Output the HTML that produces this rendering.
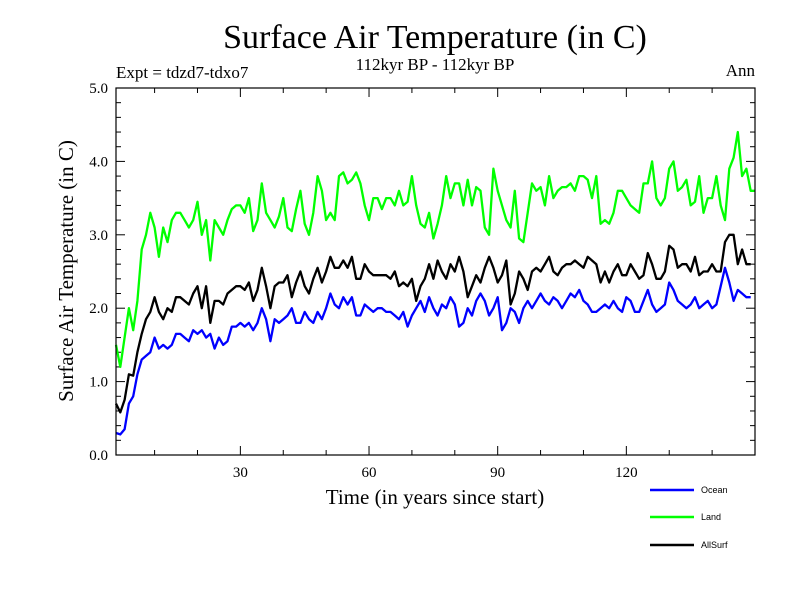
<!DOCTYPE html>
<html><head><meta charset="utf-8"><style>
body{margin:0;background:#fff;}
svg{display:block;font-family:"Liberation Serif",serif;}
</style></head><body>
<svg id="chart" width="800" height="600">
<rect width="800" height="600" fill="#fff"/>
<text x="435" y="48" font-size="34" text-anchor="middle">Surface Air Temperature (in C)</text>
<text x="435" y="70" font-size="17" text-anchor="middle">112kyr BP - 112kyr BP</text>
<text x="116" y="78" font-size="17">Expt = tdzd7-tdxo7</text>
<text x="755" y="76" font-size="17" text-anchor="end">Ann</text>
<text transform="translate(73,271) rotate(-90)" font-size="21" text-anchor="middle">Surface Air Temperature (in C)</text>
<text x="435" y="504" font-size="21" text-anchor="middle">Time (in years since start)</text>
<g id="ticks"></g>
<g id="series"></g>
<rect x="116" y="88" width="639" height="367" fill="none" stroke="#000" stroke-width="1.2"/>
<g font-family="Liberation Sans, sans-serif" font-size="9">
<line x1="650" y1="490" x2="694" y2="490" stroke="#0000ff" stroke-width="2.5"/>
<text x="701" y="493">Ocean</text>
<line x1="650" y1="517" x2="694" y2="517" stroke="#00ff00" stroke-width="2.5"/>
<text x="701" y="520">Land</text>
<line x1="650" y1="545" x2="694" y2="545" stroke="#000" stroke-width="2.5"/>
<text x="701" y="548">AllSurf</text>
</g>
</svg>
<script>
const xTicks=[30,60,90,120];
const yTicks=[0,1,2,3,4,5];
const ocean=[0.3,0.28,0.35,0.7,0.8,1.1,1.3,1.35,1.4,1.6,1.45,1.5,1.45,1.5,1.65,1.65,1.6,1.55,1.7,1.65,1.7,1.6,1.65,1.45,1.6,1.5,1.55,1.75,1.75,1.8,1.75,1.8,1.7,1.8,2.0,1.85,1.55,1.85,1.8,1.85,1.9,2.0,1.8,1.8,1.95,1.85,1.8,1.95,1.85,2.0,2.2,2.05,2.0,2.15,2.05,2.15,1.9,1.9,2.05,2.0,1.95,2.0,2.0,1.95,1.95,1.9,1.85,1.95,1.75,1.9,2.0,2.1,1.95,2.15,2.0,1.9,2.05,2.0,2.15,2.05,1.75,1.8,2.0,1.9,2.1,2.2,2.1,1.9,2.0,2.15,1.7,1.8,2.0,1.95,1.8,2.0,2.1,2.0,2.1,2.2,2.1,2.05,2.15,2.1,2.0,2.1,2.2,2.15,2.25,2.1,2.05,1.95,1.95,2.0,2.05,2.0,2.1,2.0,1.95,2.15,2.1,1.95,1.95,2.1,2.25,2.05,1.95,2.0,2.05,2.35,2.25,2.1,2.05,2.0,2.05,2.15,2.0,2.05,2.1,2.0,2.05,2.3,2.55,2.35,2.1,2.25,2.2,2.15,2.15];
const land=[1.5,1.2,1.6,2.0,1.7,2.1,2.8,3.0,3.3,3.1,2.7,3.1,2.9,3.2,3.3,3.3,3.2,3.1,3.2,3.45,3.0,3.2,2.65,3.2,3.1,3.0,3.2,3.35,3.4,3.4,3.3,3.5,3.05,3.2,3.7,3.3,3.2,3.1,3.25,3.5,3.1,3.05,3.35,3.6,3.15,3.0,3.3,3.8,3.6,3.2,3.3,3.2,3.8,3.85,3.7,3.75,3.85,3.7,3.4,3.2,3.5,3.5,3.35,3.5,3.5,3.4,3.6,3.4,3.45,3.8,3.4,3.15,3.1,3.3,2.95,3.15,3.4,3.8,3.5,3.7,3.7,3.4,3.75,3.4,3.65,3.6,3.1,3.0,3.9,3.6,3.4,3.2,3.1,3.6,2.95,2.9,3.3,3.7,3.6,3.65,3.4,3.8,3.5,3.6,3.65,3.65,3.7,3.6,3.8,3.8,3.75,3.5,3.8,3.15,3.2,3.15,3.3,3.6,3.6,3.5,3.4,3.35,3.3,3.7,3.7,4.0,3.5,3.4,3.5,3.9,4.0,3.6,3.65,3.75,3.4,3.45,3.8,3.3,3.5,3.5,3.8,3.4,3.2,3.9,4.05,4.4,3.8,3.9,3.6,3.6];
const allsurf=[0.7,0.58,0.75,1.1,1.08,1.4,1.65,1.85,1.95,2.15,1.95,1.85,2.0,1.95,2.15,2.15,2.1,2.05,2.2,2.3,2.0,2.3,1.8,2.1,2.1,2.05,2.2,2.25,2.3,2.3,2.25,2.35,2.1,2.25,2.55,2.3,2.0,2.3,2.35,2.35,2.45,2.15,2.35,2.5,2.3,2.2,2.4,2.55,2.35,2.5,2.7,2.55,2.55,2.65,2.55,2.7,2.4,2.4,2.6,2.5,2.45,2.45,2.45,2.45,2.4,2.5,2.3,2.35,2.3,2.4,2.1,2.3,2.4,2.6,2.4,2.65,2.5,2.4,2.6,2.5,2.7,2.5,2.15,2.3,2.45,2.35,2.55,2.7,2.55,2.35,2.45,2.65,2.05,2.2,2.5,2.4,2.25,2.5,2.55,2.5,2.6,2.7,2.5,2.45,2.55,2.6,2.6,2.65,2.6,2.55,2.7,2.65,2.6,2.35,2.5,2.35,2.5,2.6,2.45,2.45,2.6,2.5,2.4,2.45,2.75,2.6,2.4,2.4,2.5,2.85,2.8,2.55,2.6,2.6,2.5,2.7,2.45,2.5,2.5,2.6,2.5,2.5,2.9,3.0,3.0,2.6,2.8,2.6,2.6];

const NS="http://www.w3.org/2000/svg";
const X0=116,X1=755,Y0=455,Y1=88;
const xMin=1,xMax=150,yMin=0,yMax=5;
function xs(v){return X0+(v-xMin)/(xMax-xMin)*(X1-X0);}
function ys(v){return Y0-(v-yMin)/(yMax-yMin)*(Y0-Y1);}
function mk(tag,attrs,parent){const e=document.createElementNS(NS,tag);for(const k in attrs)e.setAttribute(k,attrs[k]);parent.appendChild(e);return e;}
const tg=document.getElementById('ticks');
for(let v=0;v<=5.0001;v+=0.2){
  const y=ys(v);const major=Math.abs(v-Math.round(v))<1e-6;const L=major?9:5;
  const t1=mk('line',{x1:X0,x2:X0+L,y1:y,y2:y,stroke:'#000'},tg);
  
  
  const t2=mk('line',{x1:X1,x2:X1-L,y1:y,y2:y,stroke:'#000'},tg);
  
  
}
yTicks.forEach(v=>{
  const t=mk('text',{x:X0-8,y:ys(v)+5,'font-size':15,'text-anchor':'end'},tg);
  t.textContent=v.toFixed(1);
  
  
});
for(let v=10;v<=150;v+=10){
  const x=xs(v);const major=v%30===0;const L=major?9:5;
  const t1=mk('line',{x1:x,x2:x,y1:Y0,y2:Y0-L,stroke:'#000'},tg);
  
  
  const t2=mk('line',{x1:x,x2:x,y1:Y1,y2:Y1+L,stroke:'#000'},tg);
  
  
}
xTicks.forEach(v=>{
  const t=mk('text',{x:xs(v),y:Y0+22,'font-size':15,'text-anchor':'middle'},tg);
  t.textContent=v;
  
  
});
const sg=document.getElementById('series');
[[ocean,'#0000ff','ocean-line'],[land,'#00ff00','land-line'],[allsurf,'#000000','allsurf-line']].forEach(([d,c,n])=>{
  const pts=d.map((v,i)=>xs(i+1).toFixed(1)+','+ys(v).toFixed(1)).join(' ');
  const p=mk('polyline',{points:pts,fill:'none',stroke:c,'stroke-width':2.3,'stroke-linejoin':'round'},sg);
  
  
});
</script>
</body></html>
